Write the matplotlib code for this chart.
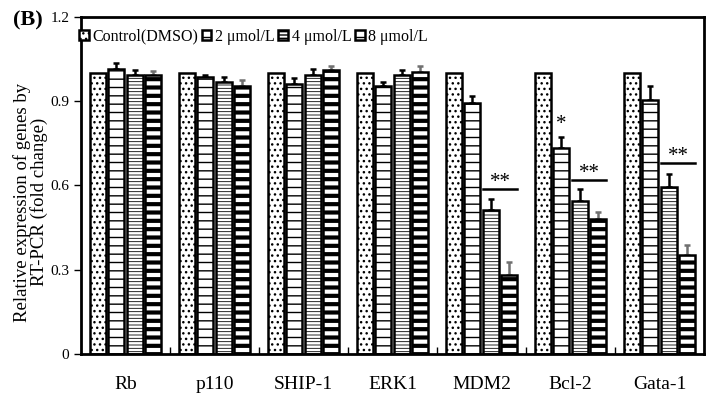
import matplotlib.pyplot as plt
import numpy as np

plt.rcParams['font.family'] = ['Liberation Serif', 'DejaVu Serif']
plt.rcParams['hatch.color'] = 'black'

genes = ["Rb", "p110", "SHIP-1", "ERK1", "MDM2", "Bcl-2", "Gata-1"]
labels = ["Control(DMSO)", "2 \u03bcmol/L", "4 \u03bcmol/L", "8 \u03bcmol/L"]

ctrl = [1.0, 1.0, 1.0, 1.0, 1.0, 1.0, 1.0]
c2 = [1.015, 0.985, 0.962, 0.955, 0.895, 0.733, 0.905]
c4 = [0.995, 0.970, 0.995, 0.995, 0.512, 0.544, 0.594]
c8 = [0.995, 0.955, 1.012, 1.005, 0.282, 0.482, 0.351]

e_ctrl = [0, 0, 0, 0, 0, 0, 0]
e2 = [0.020, 0.010, 0.020, 0.015, 0.025, 0.040, 0.050]
e4 = [0.015, 0.015, 0.020, 0.015, 0.040, 0.045, 0.048]
e8 = [0.012, 0.020, 0.015, 0.020, 0.044, 0.023, 0.038]

# significance marks: (gene index, first bar, last bar, line y, text)
sig_lines = [(4, 2, 3, 0.589, "**"), (5, 2, 3, 0.621, "**"), (6, 2, 3, 0.681, "**")]
sig_single = [(5, 1, 0.785, "*")]

values = [ctrl, c2, c4, c8]
errors = [e_ctrl, e2, e4, e8]
hatches = ["...", "--", "-----", "--"]
hatch_lw = [1.0, 1.0, 0.6, 3.0]
err_colors = ["black", "black", "black", "#707070"]

fig = plt.figure(figsize=(7.12, 3.96), dpi=100)
ax = fig.add_axes([0.1138, 0.1061, 0.875, 0.851])

x = np.arange(len(genes))
w = 0.18
step = 0.208
offsets = (np.arange(4) - 1.5) * step

for i in range(4):
    with plt.rc_context({'hatch.linewidth': hatch_lw[i]}):
        ax.bar(x + offsets[i], values[i], w, color="white", edgecolor="black",
               linewidth=1.8, hatch=hatches[i], label=labels[i], zorder=2)
    if i > 0:
        ax.errorbar(x + offsets[i], values[i],
                    yerr=[np.zeros(len(genes)), errors[i]], fmt="none",
                    ecolor=err_colors[i], elinewidth=1.8, capsize=2,
                    capthick=1.8, zorder=1)

for g, b0, b1, y, txt in sig_lines:
    x0 = g + offsets[b0] - w / 2
    x1 = g + offsets[b1] + w / 2
    ax.plot([x0, x1], [y, y], color="black", lw=1.8)
    ax.text((x0 + x1) / 2, y - 0.012, txt, ha="center", va="bottom", fontsize=15)

for g, b, y, txt in sig_single:
    ax.text(g + offsets[b], y, txt, ha="center", va="bottom", fontsize=15)

ax.set_xlim(-0.5, len(genes) - 0.5)
ax.set_ylim(0, 1.2)
ax.set_yticks([0, 0.3, 0.6, 0.9, 1.2])
ax.set_yticklabels(["0", "0.3", "0.6", "0.9", "1.2"])
ax.set_xticks(x)
ax.set_xticklabels(genes)
ax.set_xticks(np.arange(0.5, len(genes) - 1, 1), minor=True)
ax.tick_params(axis="x", which="major", length=0, pad=16, labelsize=14)
ax.tick_params(axis="x", which="minor", direction="in", length=5, width=1)
ax.tick_params(axis="y", direction="out", length=5, width=1, labelsize=11)
for s in ax.spines.values():
    s.set_linewidth(2)

ax.set_ylabel("Relative expression of genes by\nRT-PCR (fold change)", fontsize=13.5,
              linespacing=0.95)
ax.yaxis.set_label_coords(-0.053, 0.45)

ax.legend(loc="upper left", bbox_to_anchor=(-0.008, 0.975), ncol=4, frameon=False,
          fontsize=11.5, handlelength=0.6, handleheight=0.6, handletextpad=0.25,
          columnspacing=0.2, borderaxespad=0, borderpad=0.2)

fig.text(0.018, 0.948, "(B)", fontsize=16, fontweight="bold", va="center")

fig.savefig("out.png", dpi=100)
